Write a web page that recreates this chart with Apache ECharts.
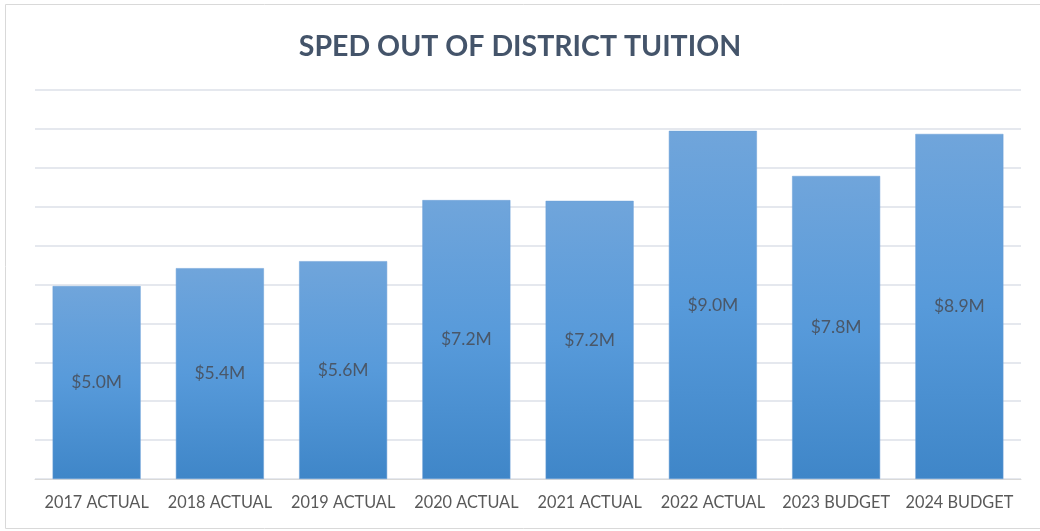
<!DOCTYPE html>
<html><head><meta charset="utf-8">
<script src="https://cdn.jsdelivr.net/npm/echarts@6/dist/echarts.min.js"></script>
<style>html,body{margin:0;padding:0;background:#fff}#c{width:1040px;height:531px}</style>
</head><body><div id="c"></div>
<script>
const categories = ['2017 ACTUAL','2018 ACTUAL','2019 ACTUAL','2020 ACTUAL','2021 ACTUAL','2022 ACTUAL','2023 BUDGET','2024 BUDGET'];
const values = [4.96, 5.42, 5.60, 7.17, 7.15, 8.95, 7.79, 8.87];
const labels = ['$5.0M','$5.4M','$5.6M','$7.2M','$7.2M','$9.0M','$7.8M','$8.9M'];
const titleText = 'SPED OUT OF DISTRICT TUITION';

const chart = echarts.init(document.getElementById('c'));
chart.setOption({
  animation: false,
  title: {text: titleText, left: 'center', top: 27,
    textStyle: {fontFamily: 'Lato', fontWeight: 'bold', fontSize: 28.5, color: '#44546a'}},
  graphic: [{type: 'rect', shape: {x: 5.5, y: 4.5, width: 1040, height: 524},
    style: {fill: 'none', stroke: '#d9d9d9', lineWidth: 1}, silent: true}],
  grid: {left: 35, right: 19, top: 90, bottom: 52},
  xAxis: {type: 'category', data: categories,
    axisLine: {lineStyle: {color: '#d9d9d9'}}, axisTick: {show: false},
    axisLabel: {interval: 0, color: '#595959', fontFamily: 'Lato', fontSize: 16.3, margin: 16}},
  yAxis: {type: 'value', min: 0, max: 10, interval: 1,
    axisLabel: {show: false}, axisLine: {show: false}, axisTick: {show: false},
    splitLine: {lineStyle: {color: '#dde1e8', width: 1.5}}},
  series: [{type: 'bar', data: values, barCategoryGap: '28.6%',
    itemStyle: {color: new echarts.graphic.LinearGradient(0,0,0,1,[
      {offset: 0, color: '#70a5db'}, {offset: 0.5, color: '#579ada'}, {offset: 1, color: '#3f86c8'}]),
      borderColor: '#6a9fd6', borderWidth: 0.5},
    label: {show: true, position: 'inside', color: '#4a5768', fontFamily: 'Lato', fontSize: 17.5,
      formatter: p => labels[p.dataIndex]}}]
});
</script></body></html>
